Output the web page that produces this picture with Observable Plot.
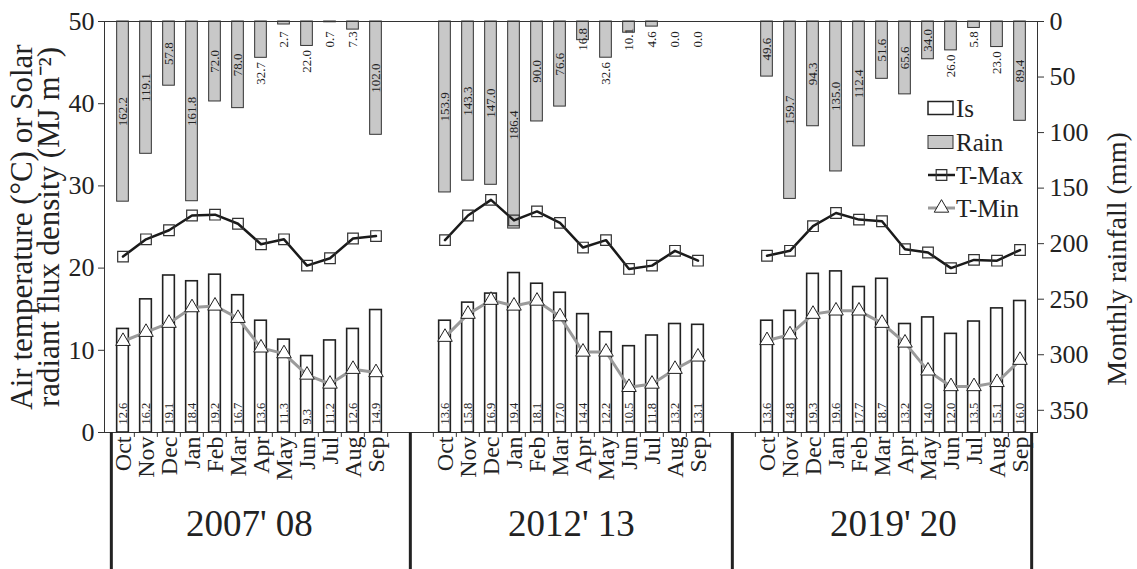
<!DOCTYPE html>
<html><head><meta charset="utf-8">
<script src="https://cdn.jsdelivr.net/npm/d3@7"></script>
<script src="https://cdn.jsdelivr.net/npm/@observablehq/plot@0.6"></script>
<style>
body{margin:0;background:#fff;}
#wrap{position:relative;width:1137px;height:569px;overflow:hidden;}
#wrap svg{position:absolute;left:0;top:0;}
</style></head><body><div id="wrap"></div>
<script>
const months = ["Oct","Nov","Dec","Jan","Feb","Mar","Apr","May","Jun","Jul","Aug","Sep"];
const seasons = ["2007' 08","2012' 13","2019' 20"];
const is0708 = [12.6,16.2,19.1,18.4,19.2,16.7,13.6,11.3,9.3,11.2,12.6,14.9];
const is1213 = [13.6,15.8,16.9,19.4,18.1,17.0,14.4,12.2,10.5,11.8,13.2,13.1];
const is1920 = [13.6,14.8,19.3,19.6,17.7,18.7,13.2,14.0,12.0,13.5,15.1,16.0];
const rain0708 = [162.2,119.1,57.8,161.8,72.0,78.0,32.7,2.7,22.0,0.7,7.3,102.0];
const rain1213 = [153.9,143.3,147.0,186.4,90.0,76.6,16.8,32.6,10.1,4.6,0.0,0.0];
const rain1920 = [49.6,159.7,94.3,135.0,112.4,51.6,65.6,34.0,26.0,5.8,23.0,89.4];
const tmax0708 = [21.4,23.5,24.6,26.4,26.5,25.4,22.9,23.5,20.3,21.2,23.6,23.9];
const tmax1213 = [23.4,26.4,28.3,25.8,26.9,25.5,22.5,23.4,19.9,20.3,22.1,20.9];
const tmax1920 = [21.5,22.1,25.1,26.7,25.9,25.7,22.3,21.9,20.0,21.0,20.9,22.2];
const tmin0708 = [11.1,12.2,13.3,15.2,15.4,13.9,10.3,9.6,7.0,5.9,7.7,7.3];
const tmin1213 = [11.6,14.4,16.1,15.4,16.0,14.1,9.8,9.8,5.5,5.9,7.7,9.2];
const tmin1920 = [11.2,11.9,14.4,14.8,14.8,13.3,10.9,7.5,5.6,5.6,6.1,8.8];
const tempTicks = [0,10,20,30,40,50];
const rainTicks = [0,50,100,150,200,250,300,350];
const legendLabels = ["Is","Rain","T-Max","T-Min"];
const leftTitle = "Air temperature (°C) or Solar\nradiant flux density (MJ m⁻²)";
const rightTitle = "Monthly rainfall (mm)";

const rainMax = 370, tempMax = 50;
const isAll = [is0708, is1213, is1920];
const rainAll = [rain0708, rain1213, rain1920];
const tmaxAll = [tmax0708, tmax1213, tmax1920];
const tminAll = [tmin0708, tmin1213, tmin1920];

const slots = [];
seasons.forEach((s, si) => {
  months.forEach(m => slots.push(s + "|" + m));
  if (si < seasons.length - 1) { slots.push("gap" + si + "a"); slots.push("gap" + si + "b"); }
});
const rows = seasons.flatMap((s, si) => months.map((m, mi) => ({
  season: s, month: m, slot: s + "|" + m,
  is: isAll[si][mi], rain: rainAll[si][mi], tmax: tmaxAll[si][mi], tmin: tminAll[si][mi]
})));
const toY = r => tempMax - r * tempMax / rainMax;
const labelPos = r => r < 20 ? 16 : r < 33 ? r + 14 : r / 2;

const W = 1137, H = 569, ML = 104, MR = 100, MT = 21, MB = 137;
const step = (W - ML - MR) / slots.length, half = step / 2;
const inset = (step - 12) / 2;
const font = "'Liberation Serif','Times New Roman',serif";
const pxPerUnit = (H - MT - MB) / tempMax;
const bottomY = -MB / pxPerUnit;

const firstSlots = seasons.map(s => s + "|Oct");
const lastSlots = seasons.map(s => s + "|Sep");
const sepLeft = [firstSlots[0], "gap0b", "gap1b"];

const chart = Plot.plot({
  width: W, height: H,
  marginLeft: ML, marginRight: MR, marginTop: MT, marginBottom: MB,
  style: {fontFamily: font, background: "white", color: "#222"},
  x: {type: "band", domain: slots, padding: 0, axis: null},
  y: {domain: [0, tempMax], axis: null},
  marks: [
    Plot.barY(rows, {x: "slot", y1: tempMax, y2: d => toY(d.rain), fill: "#c8c8c8", stroke: "#333", strokeWidth: 1, insetLeft: inset, insetRight: inset}),
    Plot.barY(rows, {x: "slot", y1: 0, y2: "is", fill: "white", stroke: "#222", strokeWidth: 1.6, insetLeft: inset, insetRight: inset}),
    Plot.frame({stroke: "#333", strokeWidth: 1}),
    Plot.line(rows, {x: "slot", y: "tmin", z: "season", stroke: "#9a9a9a", strokeWidth: 3}),
    Plot.dot(rows, {x: "slot", y: "tmin", symbol: "triangle", r: 5.4, fill: "white", stroke: "#222", strokeWidth: 1}),
    Plot.line(rows, {x: "slot", y: "tmax", z: "season", stroke: "#1a1a1a", strokeWidth: 2.5}),
    Plot.dot(rows, {x: "slot", y: "tmax", symbol: "square", r: 6, fill: "none", stroke: "#333", strokeWidth: 1.2}),
    Plot.text(rows, {x: "slot", y: 0, dy: -8, text: d => d.is.toFixed(1), rotate: -90, textAnchor: "start", fontSize: 12.5, fill: "#222"}),
    Plot.text(rows, {x: "slot", y: d => toY(labelPos(d.rain)), text: d => d.rain.toFixed(1), rotate: -90, fontSize: 13, fill: "#222"}),
    Plot.axisY(tempTicks, {anchor: "left", tickSize: 6, tickPadding: 4, fontSize: 26, label: null, stroke: "#333"}),
    Plot.axisY(rainTicks.map(toY), {anchor: "right", tickSize: 6, tickPadding: 6, fontSize: 26, label: null, stroke: "#333",
      tickFormat: v => String(Math.round((tempMax - v) * rainMax / tempMax))}),
    Plot.ruleX(rows, {x: "slot", y1: 0, y2: -0.6, dx: -half, stroke: "#333"}),
    Plot.ruleX(lastSlots, {x: d => d, y1: 0, y2: -0.6, dx: half, stroke: "#333"}),
    Plot.ruleX(sepLeft, {x: d => d, y1: 0, y2: bottomY, dx: -half, stroke: "#222", strokeWidth: 3}),
    Plot.ruleX([lastSlots[2]], {x: d => d, y1: 0, y2: bottomY, dx: half, stroke: "#222", strokeWidth: 3}),
    Plot.text(rows, {x: "slot", y: 0, dy: 4, text: "month", rotate: -90, textAnchor: "end", fontSize: 24, fill: "#222"}),
    Plot.text(seasons, {x: s => s + "|Apr", dx: -half, y: -11.1, text: d => d, fontSize: 37, fill: "#222"}),
    Plot.text([leftTitle], {frameAnchor: "left", textAnchor: "middle", rotate: -90, dx: -68, text: d => d, fontSize: 31, lineHeight: 0.87, fill: "#222"}),
    Plot.text([rightTitle], {frameAnchor: "right", textAnchor: "middle", rotate: -90, dx: 80, dy: 32, text: d => d, fontSize: 28, fill: "#222"})
  ]
});
document.getElementById("wrap").appendChild(chart);

// legend overlay
const lg = d3.select("#wrap").append("svg").attr("width", W).attr("height", H)
  .style("pointer-events", "none").style("font-family", font);
const lx = 928, rowY = [108, 142, 175, 208];
const g = lg.append("g");
g.append("rect").attr("x", lx).attr("y", rowY[0] - 6.5).attr("width", 25).attr("height", 13).attr("fill", "white").attr("stroke", "#222").attr("stroke-width", 1.5);
g.append("rect").attr("x", lx).attr("y", rowY[1] - 6.5).attr("width", 25).attr("height", 13).attr("fill", "#c8c8c8").attr("stroke", "#333").attr("stroke-width", 1);
g.append("line").attr("x1", lx).attr("x2", lx + 27).attr("y1", rowY[2]).attr("y2", rowY[2]).attr("stroke", "#1a1a1a").attr("stroke-width", 2.5);
g.append("path").attr("d", d3.symbol(d3.symbolSquare, Math.PI * 36)()).attr("transform", `translate(${lx + 13.5},${rowY[2]})`).attr("fill", "none").attr("stroke", "#333").attr("stroke-width", 1.2);
g.append("line").attr("x1", lx).attr("x2", lx + 27).attr("y1", rowY[3]).attr("y2", rowY[3]).attr("stroke", "#9a9a9a").attr("stroke-width", 3);
g.append("path").attr("d", d3.symbol(d3.symbolTriangle, Math.PI * 29)()).attr("transform", `translate(${lx + 13.5},${rowY[3]})`).attr("fill", "white").attr("stroke", "#222").attr("stroke-width", 1);
legendLabels.forEach((t, i) => {
  g.append("text").attr("x", lx + 28).attr("y", rowY[i]).attr("dy", "0.35em").attr("font-size", 25).attr("fill", "#222").text(t);
});
</script>
</body></html>
